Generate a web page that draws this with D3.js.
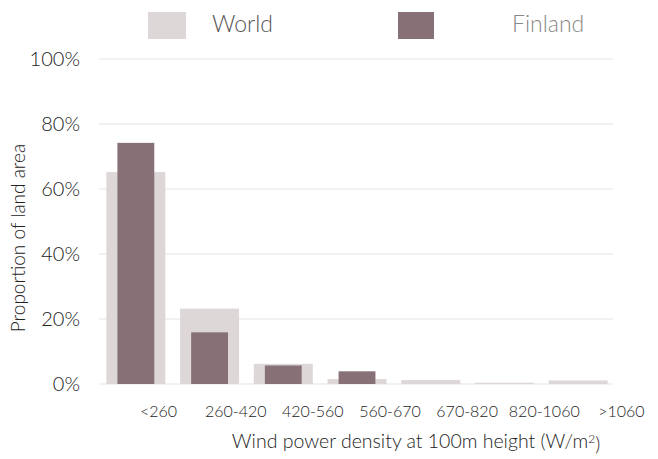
<!DOCTYPE html>
<html>
<head>
<meta charset="utf-8">
<script src="https://cdn.jsdelivr.net/npm/d3@7"></script>
<style>
  body { margin: 0; background: #fff; }
  text { font-family: Lato, "Open Sans", sans-serif; font-weight: 300; }
</style>
</head>
<body>
<div id="chart"></div>
<script>
// Categories & values (proportion of land area, %)
const categories = ["<260","260-420","420-560","560-670","670-820","820-1060",">1060"];
const worldValues = [65.2, 23.2, 6.2, 1.5, 1.2, 0.4, 1.1];
const finlandValues = [74.2, 15.9, 5.7, 3.9, 0, 0, 0];
const yTicks = [0, 20, 40, 60, 80, 100];
const seriesNames = ["World", "Finland"];

const width = 658, height = 459;
const colors = { World: "#ddd7d8", Finland: "#877176" };

const svg = d3.select("#chart").append("svg")
  .attr("width", width)
  .attr("height", height);

const x = d3.scaleBand().domain(categories).range([99, 615])
  .paddingInner(0.2).paddingOuter(0.1);
// tick labels sit on their own, wider band
const xLabels = d3.scaleBand().domain(categories).range([120, 660]);
const y = d3.scaleLinear().domain([0, 100]).range([384, 59]);

// grid lines
svg.append("g")
  .selectAll("line")
  .data(yTicks)
  .join("line")
  .attr("x1", 99).attr("x2", 613)
  .attr("y1", d => y(d)).attr("y2", d => y(d))
  .attr("stroke", "#f1f1f1")
  .attr("stroke-width", 2);

// y axis labels
svg.append("g")
  .selectAll("text")
  .data(yTicks)
  .join("text")
  .attr("x", 80)
  .attr("y", d => y(d))
  .attr("dy", "0.35em")
  .attr("text-anchor", "end")
  .style("font-size", "20px")
  .attr("fill", "#222")
  .text(d => d + "%");

// World bars (wide)
svg.append("g")
  .selectAll("rect")
  .data(worldValues)
  .join("rect")
  .attr("x", (d, i) => x(categories[i]))
  .attr("width", x.bandwidth())
  .attr("y", d => y(d))
  .attr("height", d => y(0) - y(d))
  .attr("fill", colors.World);

// Finland bars (narrow, centered)
const fw = x.step() * 0.5;
svg.append("g")
  .selectAll("rect")
  .data(finlandValues)
  .join("rect")
  .attr("x", (d, i) => x(categories[i]) + x.bandwidth() / 2 - fw / 2)
  .attr("width", fw)
  .attr("y", d => y(d))
  .attr("height", d => y(0) - y(d))
  .attr("fill", colors.Finland);

// x tick labels
svg.append("g")
  .selectAll("text")
  .data(categories)
  .join("text")
  .attr("x", d => xLabels(d) + xLabels.bandwidth() / 2)
  .attr("y", 411)
  .attr("dy", "0.35em")
  .attr("text-anchor", "middle")
  .style("font-size", "16px")
  .attr("fill", "#222")
  .text(d => d);

// axis titles
const xt = svg.append("text")
  .attr("x", 416).attr("y", 448)
  .attr("text-anchor", "middle")
  .style("font-size", "19.5px")
  .attr("fill", "#222");
xt.append("tspan").text("Wind power density at 100m height (W/m");
xt.append("tspan").attr("dy", "-0.45em").style("font-size", "12px").text("2");
xt.append("tspan").attr("dy", "0.45em").text(")");

svg.append("text")
  .attr("transform", "translate(25,238) rotate(-90)")
  .attr("text-anchor", "middle")
  .style("font-size", "19px")
  .attr("fill", "#222")
  .text("Proportion of land area");

// legend
const legendPos = [
  { sx: 148, sw: 38, tx: 212, fill: "#555" },
  { sx: 398, sw: 36, tx: 512, fill: "#888" }
];
seriesNames.forEach((name, i) => {
  const p = legendPos[i];
  svg.append("rect")
    .attr("x", p.sx).attr("y", 12)
    .attr("width", p.sw).attr("height", 27)
    .attr("fill", colors[name]);
  svg.append("text")
    .attr("x", p.tx).attr("y", 31.5)
    .style("font-size", "23px")
    .attr("fill", p.fill)
    .text(name);
});
</script>
</body>
</html>
